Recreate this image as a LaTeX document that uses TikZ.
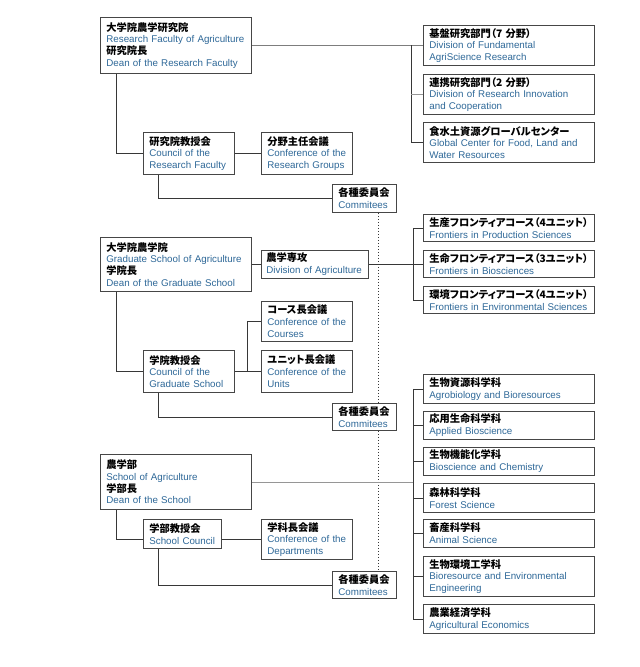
\documentclass[tikz,border=0pt]{standalone}
\usepackage{fontspec}
\setmainfont{Liberation Sans}
\newfontfamily\jpfont[RawFeature={+palt}]{Noto Sans CJK JP}
\definecolor{engblue}{RGB}{46,104,152}
\definecolor{boxline}{RGB}{70,70,70}
\definecolor{linkline}{RGB}{55,55,55}
\definecolor{softline}{RGB}{150,150,150}
\newcommand{\jpn}[1]{{\jpfont\bfseries\fontsize{10.3}{11.8}\selectfont #1}}
\newcommand{\eng}[1]{\textcolor{engblue}{#1}}

\begin{document}
\begin{tikzpicture}[x=1bp,y=-1bp,
    unit/.style={draw=boxline,line width=0.8bp,fill=white,anchor=north west,
      align=left,inner xsep=6bp,inner ysep=0bp,font=\fontsize{9.8}{11.8}\selectfont},
    link/.style={draw=linkline,line width=0.7bp},
    soft/.style={draw=softline,line width=0.7bp},
    rule/.style={draw=linkline,line width=0.6bp,dash pattern=on 1.5bp off 1.5bp}]
  \useasboundingbox (0,0) rectangle (640,667);
  % research faculty
  \node[unit,text width=139bp,minimum height=56bp] (rfa) at (100,17)
    {\jpn{大学院農学研究院}\\\eng{Research Faculty of Agriculture}\\\jpn{研究院長}\\\eng{Dean of the Research Faculty}};
  \node[unit,text width=79bp,minimum height=42bp] (rcouncil) at (143,132)
    {\jpn{研究院教授会}\\\eng{Council of the}\\\eng{Research Faculty}};
  \node[unit,text width=79bp,minimum height=42bp] (rgroups) at (261,132)
    {\jpn{分野主任会議}\\\eng{Conference of the}\\\eng{Research Groups}};
  \node[unit,text width=52bp,minimum height=28bp] (rcom) at (332,184)
    {\jpn{各種委員会}\\\eng{Commitees}};
  \node[unit,text width=159bp,minimum height=40bp] (div1) at (423,25)
    {\jpn{基盤研究部門（7 分野）}\\\eng{Division of Fundamental}\\\eng{AgriScience Research}};
  \node[unit,text width=159bp,minimum height=40bp] (div2) at (423,74)
    {\jpn{連携研究部門（2 分野）}\\\eng{Division of Research Innovation}\\\eng{and Cooperation}};
  \node[unit,text width=159bp,minimum height=40bp] (div3) at (423,122)
    {\jpn{食水土資源グローバルセンター}\\\eng{Global Center for Food, Land and}\\\eng{Water Resources}};
  % graduate school
  \node[unit,text width=139bp,minimum height=54bp] (gsa) at (100,237)
    {\jpn{大学院農学院}\\\eng{Graduate School of Agriculture}\\\jpn{学院長}\\\eng{Dean of the Graduate School}};
  \node[unit,text width=97bp,inner xsep=5bp,minimum height=28bp] (divagr) at (261,250)
    {\jpn{農学専攻}\\\eng{Division of Agriculture}};
  \node[unit,text width=79bp,minimum height=40bp] (courses) at (261,301)
    {\jpn{コース長会議}\\\eng{Conference of the}\\\eng{Courses}};
  \node[unit,text width=79bp,minimum height=42bp] (units) at (261,350)
    {\jpn{ユニット長会議}\\\eng{Conference of the}\\\eng{Units}};
  \node[unit,text width=79bp,minimum height=42bp] (gcouncil) at (143,350)
    {\jpn{学院教授会}\\\eng{Council of the}\\\eng{Graduate School}};
  \node[unit,text width=52bp,minimum height=27bp] (gcom) at (332,403)
    {\jpn{各種委員会}\\\eng{Commitees}};
  \node[unit,text width=159bp,minimum height=27bp] (fr1) at (423,214)
    {\jpn{生産フロンティアコース（4ユニット）}\\\eng{Frontiers in Production Sciences}};
  \node[unit,text width=159bp,minimum height=27bp] (fr2) at (423,250)
    {\jpn{生命フロンティアコース（3ユニット）}\\\eng{Frontiers in Biosciences}};
  \node[unit,text width=159bp,minimum height=27bp] (fr3) at (423,286)
    {\jpn{環境フロンティアコース（4ユニット）}\\\eng{Frontiers in Environmental Sciences}};
  % school
  \node[unit,text width=139bp,minimum height=55bp] (sa) at (100,454)
    {\jpn{農学部}\\\eng{School of Agriculture}\\\jpn{学部長}\\\eng{Dean of the School}};
  \node[unit,text width=66bp,minimum height=29bp] (scouncil) at (143,519)
    {\jpn{学部教授会}\\\eng{School Council}};
  \node[unit,text width=79bp,minimum height=40bp] (sdept) at (261,519)
    {\jpn{学科長会議}\\\eng{Conference of the}\\\eng{Departments}};
  \node[unit,text width=52bp,minimum height=27bp] (scom) at (332,571)
    {\jpn{各種委員会}\\\eng{Commitees}};
  \node[unit,text width=159bp,minimum height=29bp] (dep1) at (423,374)
    {\jpn{生物資源科学科}\\\eng{Agrobiology and Bioresources}};
  \node[unit,text width=159bp,minimum height=28bp] (dep2) at (423,411)
    {\jpn{応用生命科学科}\\\eng{Applied Bioscience}};
  \node[unit,text width=159bp,minimum height=28bp] (dep3) at (423,447)
    {\jpn{生物機能化学科}\\\eng{Bioscience and Chemistry}};
  \node[unit,text width=159bp,minimum height=29bp] (dep4) at (423,483)
    {\jpn{森林科学科}\\\eng{Forest Science}};
  \node[unit,text width=159bp,minimum height=28bp] (dep5) at (423,519)
    {\jpn{畜産科学科}\\\eng{Animal Science}};
  \node[unit,text width=159bp,minimum height=40bp] (dep6) at (423,556)
    {\jpn{生物環境工学科}\\\eng{Bioresource and Environmental}\\\eng{Engineering}};
  \node[unit,text width=159bp,minimum height=29bp] (dep7) at (423,604)
    {\jpn{農業経済学科}\\\eng{Agricultural Economics}};

  % connectors
  \draw[link] (rfa.east) -- (div1.west);
  \draw[link] (div1.west) ++(-12,0) |- (div3.west);
  \draw[soft] (div2.west) -- ++(-12,0);
  \draw[link] ([xshift=16bp]rfa.south west) |- (rcouncil.west);
  \draw[link] (rcouncil.east) -- (rgroups.west);
  \draw[link] ([xshift=15bp]rcouncil.south west) |- (rcom.west);
  \draw[rule] ([xshift=-19bp]rcom.south east) -- ([xshift=-19bp]gcom.north east);

  \draw[link] (gsa.east) -- (divagr.west);
  \draw[link] (divagr.east) -- (divagr.east -| fr2.west);
  \draw[link] (fr1.west) ++(-10,0) |- (fr3.west);
  \draw[link] (fr1.west) -- ++(-10,0);
  \draw[link] ([xshift=16bp]gsa.south west) |- (gcouncil.west);
  \draw[link] (gcouncil.east) -- (units.west);
  \draw[link] (courses.west) -- ++(-14,0) |- (units.west);
  \draw[link] ([xshift=15bp]gcouncil.south west) |- (gcom.west);
  \draw[rule] ([xshift=-19bp]gcom.south east) -- ([xshift=-19bp]scom.north east);

  \draw[soft] (sa.east) -- ([xshift=-10bp]sa.east -| dep1.west);
  \draw[link] (dep1.west) ++(-10,0) |- (dep7.west);
  \foreach \d in {1,...,7}
    \draw[link] (dep\d.west) -- ++(-10,0);
  \draw[link] ([xshift=16bp]sa.south west) |- (scouncil.west |- sdept.west);
  \draw[link] (scouncil.east |- sdept.west) -- (sdept.west);
  \draw[link] ([xshift=15bp]scouncil.south west) |- (scom.west);
\end{tikzpicture}
\end{document}
